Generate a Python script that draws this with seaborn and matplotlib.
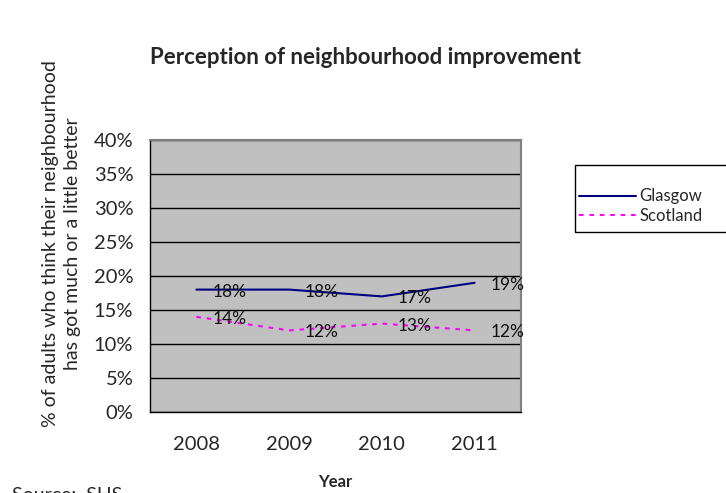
import numpy as np
import pandas as pd
import matplotlib
matplotlib.use('Agg')
import matplotlib.pyplot as plt
import seaborn as sns
from matplotlib.patches import Rectangle
from matplotlib.ticker import PercentFormatter, FixedLocator

years = ["2008", "2009", "2010", "2011"]
glasgow = [18, 18, 17, 19]
scotland = [14, 12, 13, 12]

df = pd.DataFrame({
    "Year": years * 2,
    "Value": glasgow + scotland,
    "Area": ["Glasgow"] * 4 + ["Scotland"] * 4,
})

sns.set_style("white")
plt.rcParams['font.family'] = ['Lato', 'DejaVu Sans']

fig = plt.figure(figsize=(7.26, 4.93), dpi=100)
ax = fig.add_axes([150 / 726, 1 - 412 / 493, 371 / 726, 272 / 493])
ax.set_facecolor("#C0C0C0")

# map year categories to positions
df["x"] = df["Year"].map({y: i for i, y in enumerate(years)})
sns.lineplot(data=df, x="x", y="Value", hue="Area", style="Area",
             palette={"Glasgow": "#000080", "Scotland": "#FF00FF"},
             dashes={"Glasgow": "", "Scotland": (2.2, 2.8)},
             lw=1.5, ax=ax, legend=False)

for _, row in df.iterrows():
    ax.annotate(f"{row['Value']}%", (row["x"], row["Value"]), xytext=(16, -2),
                textcoords="offset pixels", ha="left", va="center",
                fontsize=12.5, color="#111111")

ax.set_xlim(-0.5, 3.5)
ax.set_ylim(0, 40)
ax.set_yticks(np.arange(0, 41, 5))
ax.yaxis.set_major_formatter(PercentFormatter(decimals=0))
ax.set_xticks(range(len(years)))
ax.set_xticklabels(years)
ax.xaxis.set_minor_locator(FixedLocator(np.arange(-0.5, 4, 1)))
ax.tick_params(axis="x", which="major", length=0, pad=17, labelsize=14.5)
ax.tick_params(axis="x", which="minor", length=4.5, width=1, color="black", direction="out")
ax.tick_params(axis="y", length=7, width=1, color="black", direction="out", pad=5, labelsize=14.5)
ax.yaxis.grid(True, color="black", lw=1)
ax.set_axisbelow(True)

for side in ["top", "right"]:
    ax.spines[side].set_color("#808080")
    ax.spines[side].set_linewidth(1.5)
for side in ["left", "bottom"]:
    ax.spines[side].set_color("black")
    ax.spines[side].set_linewidth(1)

ax.set_xlabel("")
ax.set_ylabel("% of adults who think their neighbourhood\nhas got much or a little better",
              fontsize=14, linespacing=1.4)
ax.yaxis.set_label_coords(-0.185, 0.62)

fig.text(335 / 726, 1 - 482 / 493, "Year", ha="center", va="center",
         fontsize=12, fontweight="bold")
fig.text(366 / 726, 1 - 57 / 493, "Perception of neighbourhood improvement",
         ha="center", va="center", fontsize=16, fontweight="bold")
fig.text(12 / 726, 1 - 487 / 493, "Source:  SHS", ha="left", va="top", fontsize=14)

# legend box (runs off the right edge, as in the original)
fig.patches.append(Rectangle((575 / 726, 1 - 232 / 493), 160 / 726, 67 / 493,
                             transform=fig.transFigure, fill=False,
                             edgecolor="black", lw=1))
handles = [plt.Line2D([], [], color="#000080", lw=1.5),
           plt.Line2D([], [], color="#FF00FF", lw=1.5, ls=(0, (2.2, 2.8)))]
fig.legend(handles, ["Glasgow", "Scotland"], loc="center left",
           bbox_to_anchor=(579 / 726, 1 - 206 / 493), frameon=False,
           fontsize=12, handlelength=3.4, borderaxespad=0, borderpad=0,
           labelspacing=0.2, handletextpad=0.2)

fig.savefig("out.png", dpi=100)
plt.close(fig)
